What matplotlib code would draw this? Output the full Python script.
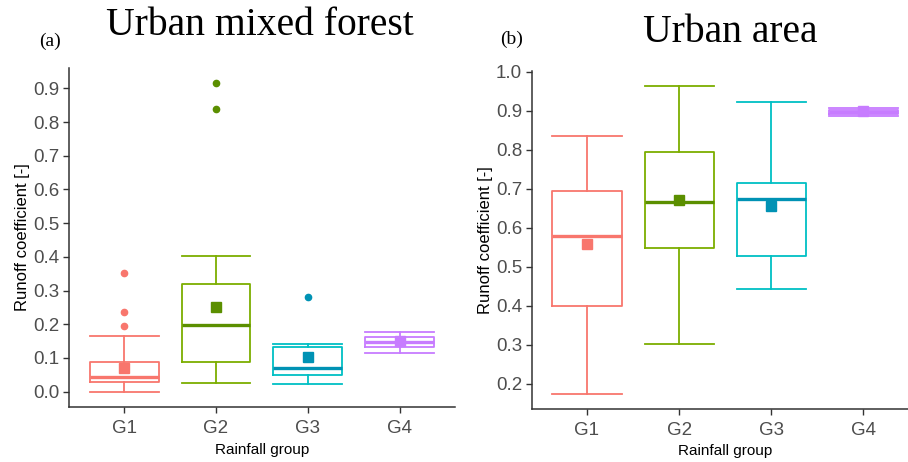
import matplotlib
matplotlib.use("Agg")
import matplotlib.pyplot as plt

groups = ["G1", "G2", "G3", "G4"]
colors = ["#F8766D", "#7CAE00", "#00BFC4", "#C77CFF"]
dark_colors = ["#F8766D", "#5B8F00", "#0092B4", "#C77CFF"]

# Panel (a) Urban mixed forest: whislo, q1, median, q3, whishi, mean, outliers
a_lo = [0.000, 0.025, 0.021, 0.115]
a_q1 = [0.028, 0.087, 0.048, 0.133]
a_med = [0.044, 0.199, 0.071, 0.148]
a_q3 = [0.087, 0.318, 0.133, 0.162]
a_hi = [0.164, 0.403, 0.142, 0.177]
a_mean = [0.069, 0.252, 0.103, 0.150]
a_out = [[0.195, 0.237, 0.351], [0.838, 0.915], [0.280], []]

# Panel (b) Urban area
b_lo = [0.173, 0.301, 0.442, 0.887]
b_q1 = [0.400, 0.547, 0.527, 0.892]
b_med = [0.579, 0.666, 0.673, 0.897]
b_q3 = [0.694, 0.794, 0.715, 0.902]
b_hi = [0.836, 0.962, 0.923, 0.908]
b_mean = [0.557, 0.672, 0.655, 0.898]
b_out = [[], [], [], []]

a_ticks = [0.0, 0.1, 0.2, 0.3, 0.4, 0.5, 0.6, 0.7, 0.8, 0.9]
b_ticks = [0.2, 0.3, 0.4, 0.5, 0.6, 0.7, 0.8, 0.9, 1.0]

fig = plt.figure(figsize=(9.08, 4.62), dpi=100)
plt.rcParams['font.family'] = ['Liberation Sans', 'DejaVu Sans']

def draw(ax, lo, q1, med, q3, hi, mean, out, ylim, ticks, lpad):
    for i in range(len(groups)):
        st = dict(whislo=lo[i], q1=q1[i], med=med[i], q3=q3[i], whishi=hi[i],
                  fliers=out[i], mean=mean[i], label=groups[i])
        c = colors[i]
        dc = dark_colors[i]
        ax.bxp([st], positions=[i + 1], widths=0.75, showmeans=False,
               boxprops=dict(color=c, lw=1.3),
               whiskerprops=dict(color=c, lw=1.3),
               capprops=dict(color=c, lw=1.3),
               medianprops=dict(color=dc, lw=2.4),
               flierprops=dict(marker='o', markersize=4.5, markerfacecolor=dc,
                               markeredgecolor=dc, linestyle='none'),
               capwidths=0.75, manage_ticks=False)
        ax.plot([i + 1], [mean[i]], marker='s', markersize=7, color=dc,
                linestyle='none', zorder=5)
    ax.set_xlim(0.4, 4.6)
    ax.set_ylim(*ylim)
    ax.set_xticks(range(1, len(groups) + 1))
    ax.set_xticklabels(groups)
    ax.set_yticks(ticks)
    ax.set_yticklabels([f"{t:.1f}" for t in ticks])
    for s in ["top", "right"]:
        ax.spines[s].set_visible(False)
    for s in ["left", "bottom"]:
        ax.spines[s].set_color("#333333")
        ax.spines[s].set_linewidth(1.1)
    ax.tick_params(axis='both', colors="#333333", length=4, width=1.0,
                   labelsize=13.5, labelcolor="#4D4D4D", pad=3)
    ax.tick_params(axis='x', pad=5)
    ax.set_xlabel("Rainfall group", fontsize=11, color="black", labelpad=lpad)
    ax.set_ylabel("Runoff coefficient [-]", fontsize=12, color="black", labelpad=2)

ax1 = fig.add_axes([0.076, 0.119, 0.425, 0.734])
draw(ax1, a_lo, a_q1, a_med, a_q3, a_hi, a_mean, a_out, (-0.046, 0.961), a_ticks, 5)
ax2 = fig.add_axes([0.5856, 0.114, 0.426, 0.733])
draw(ax2, b_lo, b_q1, b_med, b_q3, b_hi, b_mean, b_out, (0.134, 1.0025), b_ticks, 3.5)

fig.text(260 / 908, 1 - 35 / 462, "Urban mixed forest", family="Liberation Serif",
         fontsize=28.5, ha="center", va="baseline")
fig.text(50 / 908, 1 - 46 / 462, "(a)", family="Liberation Serif",
         fontsize=14, ha="center", va="baseline")
fig.text(730 / 908, 1 - 42 / 462, "Urban area", family="Liberation Serif",
         fontsize=28.5, ha="center", va="baseline")
fig.text(512 / 908, 1 - 44 / 462, "(b)", family="Liberation Serif",
         fontsize=14, ha="center", va="baseline")

fig.savefig("out.png", dpi=100)
